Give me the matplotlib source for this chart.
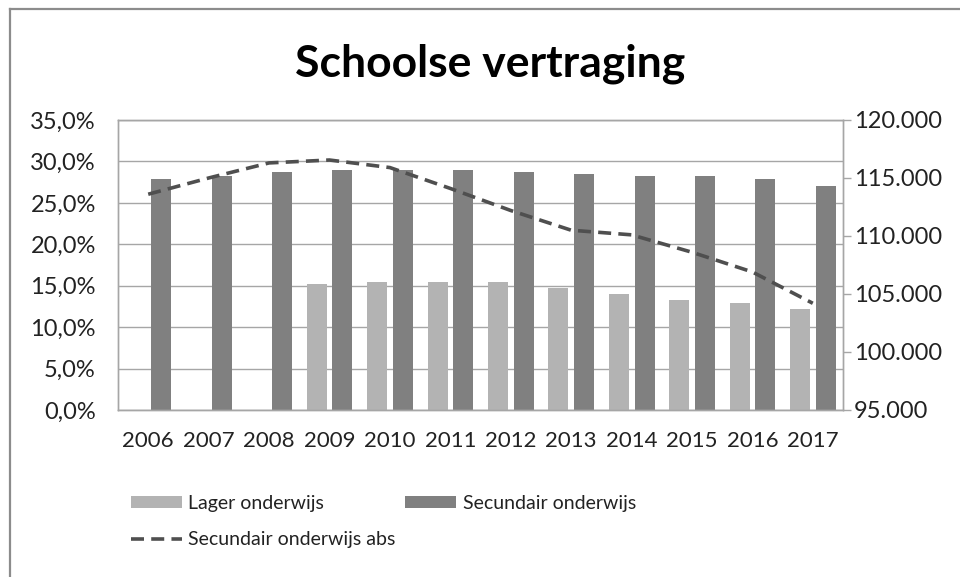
import matplotlib
matplotlib.use("Agg")
import matplotlib.pyplot as plt
from matplotlib.ticker import FuncFormatter, MultipleLocator
from matplotlib.lines import Line2D
import numpy as np

plt.rcParams['font.family'] = ['Lato', 'DejaVu Sans']

# Data
years = [2006, 2007, 2008, 2009, 2010, 2011, 2012, 2013, 2014, 2015, 2016, 2017]
lager = [None, None, None, 15.2, 15.5, 15.5, 15.4, 14.7, 14.0, 13.3, 12.9, 12.2]
secundair = [27.9, 28.2, 28.7, 29.0, 29.0, 29.0, 28.7, 28.5, 28.3, 28.2, 27.9, 27.0]
secundair_abs = [113600, 115000, 116300, 116550, 115900, 114100,
                 112200, 110500, 110100, 108600, 106900, 104200]

c_lager = '#b3b3b3'
c_sec = '#808080'
c_line = '#4f4f4f'
c_grid = '#a6a6a6'
c_text = '#222222'

W, H = 960, 577
fig = plt.figure(figsize=(W / 100, H / 100), dpi=100)

# plot area in pixel coordinates
x0, x1, ytop, ybot = 118, 843, 120, 410
ax = fig.add_axes([x0 / W, 1 - ybot / H, (x1 - x0) / W, (ybot - ytop) / H])

x = np.arange(len(years))
lx = np.array([xi for xi, v in zip(x, lager) if v is not None])
lv = [v for v in lager if v is not None]
ax.bar(lx - 0.21, lv, width=0.33, color=c_lager, label='Lager onderwijs', zorder=2)
ax.bar(x + 0.215, secundair, width=0.33, color=c_sec, label='Secundair onderwijs', zorder=2)

ax.set_xlim(-0.5, len(years) - 0.5)
ax.set_ylim(0, 35)
ax.yaxis.set_major_locator(MultipleLocator(5))
ax.yaxis.set_major_formatter(FuncFormatter(lambda v, p: f"{v:.1f}%".replace('.', ',')))
ax.set_xticks(x)
ax.set_xticklabels([str(y) for y in years])
ax.grid(axis='y', color=c_grid, linewidth=1.0, zorder=0)
ax.set_axisbelow(True)
ax.tick_params(axis='y', length=0, pad=16, labelsize=17, colors=c_text)
ax.tick_params(axis='x', length=0, pad=15, labelsize=16, colors=c_text)
for s in ax.spines.values():
    s.set_color(c_grid)
    s.set_linewidth(1.0)

ax2 = ax.twinx()
ln, = ax2.plot(x, secundair_abs, color=c_line, linewidth=2.6,
               linestyle=(0, (3.6, 2.0)), label='Secundair onderwijs abs', zorder=3)
ax2.set_ylim(95000, 120000)
ax2.yaxis.set_major_locator(MultipleLocator(5000))
ax2.yaxis.set_major_formatter(FuncFormatter(lambda v, p: f"{int(v):,}".replace(',', '.')))
ax2.tick_params(axis='y', length=6, width=1.0, pad=2, labelsize=17,
                color=c_grid, labelcolor=c_text)
for s in ax2.spines.values():
    s.set_color(c_grid)
    s.set_linewidth(1.0)

fig.text(490 / W, 1 - 64 / H, 'Schoolse vertraging', ha='center', va='center',
         fontsize=32, fontweight='bold', color='black')

h, l = ax.get_legend_handles_labels()
handles = [h[0], ln, h[1]]
labels = [l[0], ln.get_label(), l[1]]
leg = fig.legend(handles, labels, loc='upper left', bbox_to_anchor=(131 / W, 1 - 495 / H),
                 ncol=2, frameon=False, fontsize=14, handlelength=2.6, handleheight=0.62,
                 handletextpad=0.35, columnspacing=0.5, labelspacing=1.0,
                 borderpad=0, borderaxespad=0)
for t in leg.get_texts():
    t.set_color(c_text)

# outer chart border
fig.add_artist(Line2D([10 / W, 10 / W], [0, 1 - 9 / H], color='#8c8c8c',
                      linewidth=1.6, transform=fig.transFigure))
fig.add_artist(Line2D([10 / W, 1], [1 - 9 / H, 1 - 9 / H], color='#8c8c8c',
                      linewidth=1.6, transform=fig.transFigure))

fig.savefig('out.png', dpi=100)
